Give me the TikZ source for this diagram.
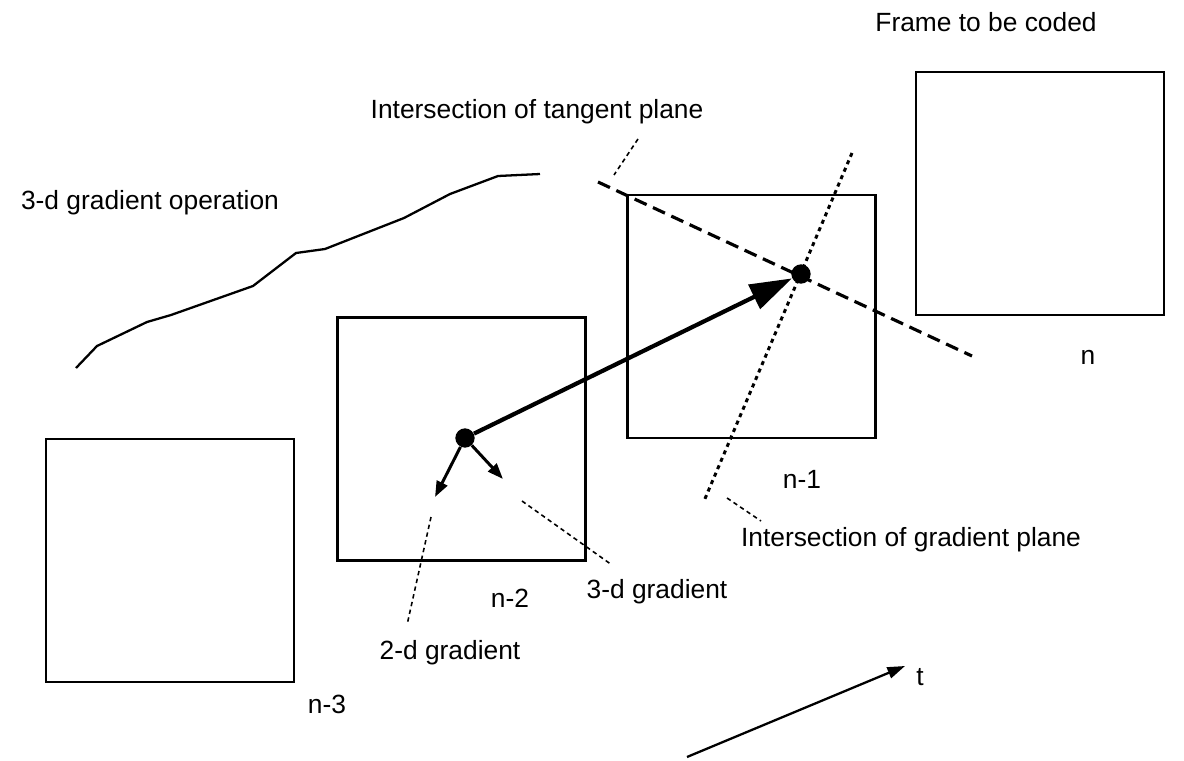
\documentclass[tikz,border=0pt]{standalone}
\usepackage{fontspec}
\setmainfont{Liberation Sans}
\usetikzlibrary{arrows.meta}
\tikzset{
  frame/.style={draw, line width=1.3pt, minimum width=4.96cm, minimum height=4.86cm, inner sep=0pt},
  lbl/.style={font=\fontsize{15}{18}\selectfont, inner sep=0pt},
  pt/.style={circle, fill, inner sep=0pt, minimum size=11pt},
  leader/.style={line width=0.9pt, dash pattern=on 2.5pt off 2pt},
}
\begin{document}
\begin{tikzpicture}[x=0.02cm, y=-0.02cm]
\useasboundingbox (0,0) rectangle (1184,761);
% frames
\node[frame] (f3) at (170,560.5) {};
\node[frame] (f2) at (461.5,439) {};
\node[frame] (f1) at (751.5,316.5) {};
\node[frame] (f0) at (1040,193.5) {};
\node[lbl] (l3) at (327,704) {n-3};
\node[lbl] (l2) at (510,598) {n-2};
\node[lbl] (l1) at (802,479) {n-1};
\node[lbl] (l0) at (1088,357) {n};
\node[lbl] (top) at (986,22) {Frame to be coded};
% gradient operation
\node[lbl] (op) at (150,203) {3-d gradient operation};
\draw[line width=1.3pt] (76,368) -- (97,346) -- (147,322) -- (171,315) -- (253,286)
  -- (296,253) -- (325,249) -- (404,218) -- (450,194) -- (498,176) -- (540,174);
% planes
\coordinate (tp1) at (598,182);
\coordinate (tp2) at (972,356);
\coordinate (gp1) at (852,153);
\coordinate (gp2) at (704,501);
\draw[line width=1.8pt, dash pattern=on 7.5pt off 4pt] (tp1) -- (tp2);
\draw[line width=1.7pt, dash pattern=on 2.3pt off 2.3pt] (gp1) -- (gp2);
% points and gradients
\node[pt] (p2) at (465,438) {};
\node[pt] (p1) at (801,274) {};
\draw[line width=2.4pt, -{Triangle[length=24pt,width=15pt]}] (p2) -- (p1);
\coordinate (g2) at (435,497);
\coordinate (g3) at (503,479);
\draw[line width=1.7pt, -{Triangle[length=9pt,width=6.5pt]}] (p2) -- (g2);
\draw[line width=1.7pt, -{Triangle[length=9pt,width=6.5pt]}] (p2) -- (g3);
% labels with leaders
\node[lbl] (tpl) at (537,112) {Intersection of tangent plane};
\node[lbl] (gpl) at (911,540) {Intersection of gradient plane};
\node[lbl] (d3) at (657,592) {3-d gradient};
\node[lbl] (d2) at (450,653) {2-d gradient};
\coordinate (a1) at (638,139);
\coordinate (a2) at (614,175);
\coordinate (b1) at (727,498);
\coordinate (b2) at (761,521);
\coordinate (c1) at (522,501);
\coordinate (c2) at (612,565);
\coordinate (e1) at (431,517);
\coordinate (e2) at (407,625);
\draw[leader] (a1) -- (a2);
\draw[leader] (b1) -- (b2);
\draw[leader] (c1) -- (c2);
\draw[leader] (e1) -- (e2);
% time axis
\coordinate (t0) at (687,757);
\node[lbl] (tl) at (920,677) {t};
\draw[line width=1.3pt, -{Triangle[length=10pt,width=6.5pt]}] (t0) -- (905,666);
\end{tikzpicture}
\end{document}
